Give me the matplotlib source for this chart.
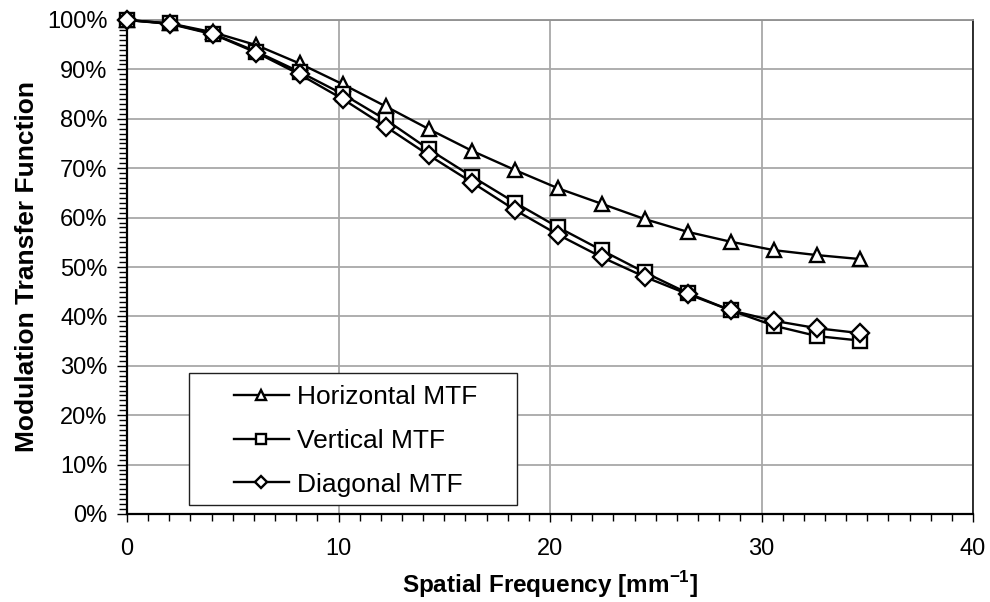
import matplotlib
matplotlib.use("Agg")
import matplotlib.pyplot as plt
from matplotlib.patches import Rectangle
from matplotlib.ticker import MultipleLocator, FuncFormatter

plt.rcParams['font.family'] = ['Liberation Sans', 'DejaVu Sans']
plt.rcParams['mathtext.fontset'] = 'custom'
plt.rcParams['mathtext.rm'] = 'Liberation Sans'
plt.rcParams['mathtext.bf'] = 'Liberation Sans:bold'

# Spatial frequency samples (cycles per mm)
freq = [0.00, 2.04, 4.08, 6.12, 8.16, 10.20, 12.24, 14.28, 16.32,
        18.36, 20.40, 22.44, 24.48, 26.52, 28.56, 30.60, 32.64, 34.68]

# MTF values in percent
mtf_horizontal = [100.0, 99.3, 97.5, 94.9, 91.2, 87.0, 82.5, 77.9, 73.5,
                  69.6, 65.9, 62.8, 59.7, 57.1, 55.1, 53.4, 52.4, 51.6]
mtf_vertical = [100.0, 99.3, 97.2, 93.6, 89.5, 85.0, 79.8, 73.8, 68.3,
                63.0, 58.0, 53.4, 48.9, 44.7, 41.2, 38.1, 36.0, 35.1]
mtf_diagonal = [100.0, 99.2, 97.1, 93.4, 89.0, 84.0, 78.4, 72.6, 67.1,
                61.5, 56.5, 52.0, 48.0, 44.5, 41.2, 39.1, 37.6, 36.6]

series_labels = ["Horizontal MTF", "Vertical MTF", "Diagonal MTF"]
series_markers = ["^", "s", "D"]

fig = plt.figure(figsize=(9.9, 6.02), dpi=100)
ax = fig.add_axes([127 / 990, 1 - 514 / 602, 846 / 990, 494 / 602])

for values, label, marker in zip([mtf_horizontal, mtf_vertical, mtf_diagonal],
                                 series_labels, series_markers):
    ms = 9 if marker == "D" else 10
    ax.plot(freq, values, color="black", lw=1.7, marker=marker, ms=ms,
            mfc="white", mec="black", mew=1.7, label=label, zorder=3,
            clip_on=False)

ax.set_xlim(0, 40)
ax.set_ylim(0, 100)
ax.xaxis.set_major_locator(MultipleLocator(10))
ax.xaxis.set_minor_locator(MultipleLocator(1))
ax.yaxis.set_major_locator(MultipleLocator(10))
ax.yaxis.set_minor_locator(MultipleLocator(1))
ax.yaxis.set_major_formatter(FuncFormatter(lambda v, p: f"{v:.0f}%"))

ax.grid(True, which="major", color="#a8a8a8", lw=1.3, zorder=0)
ax.set_axisbelow(True)

ax.tick_params(axis="both", which="both", direction="out", color="black",
               width=1.0)
ax.tick_params(axis="x", which="major", length=6, pad=11, labelsize=17)
ax.tick_params(axis="x", which="minor", length=5)
ax.tick_params(axis="y", which="major", length=7, pad=7, labelsize=17)
ax.tick_params(axis="y", which="minor", length=6)

for side in ("left", "bottom"):
    ax.spines[side].set_color("black")
    ax.spines[side].set_linewidth(1.6)
ax.spines["top"].set_color("#909090")
ax.spines["top"].set_linewidth(1.3)
ax.spines["right"].set_color("#202020")
ax.spines["right"].set_linewidth(1.3)

ax.set_xlabel(r"Spatial Frequency [mm$^{\mathbf{-1}}$]", fontsize=17.5,
              fontweight="bold", labelpad=7)
ax.set_ylabel("Modulation Transfer Function", fontsize=19,
              fontweight="bold", labelpad=6)

# Legend box drawn as a plain rectangle, entries placed inside it
ax.add_patch(Rectangle((0.0733, 0.0182), 0.3877, 0.267, transform=ax.transAxes,
                       facecolor="white", edgecolor="#202020", lw=1.0,
                       zorder=4))
leg = ax.legend(loc="upper left", bbox_to_anchor=(0.1262, 0.261),
                borderaxespad=0, borderpad=0, fontsize=19, frameon=False,
                handlelength=2.1, handletextpad=0.3, labelspacing=0.75,
                markerscale=0.7)
leg.set_zorder(5)

fig.savefig("out.png", dpi=100)
